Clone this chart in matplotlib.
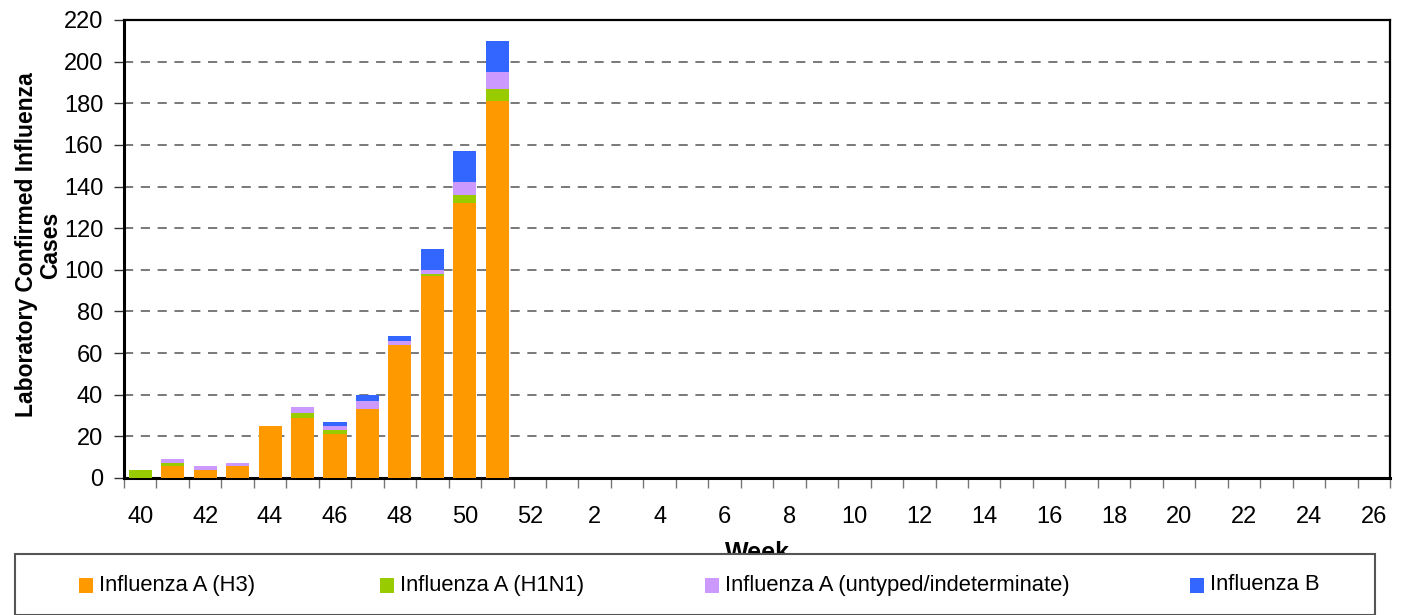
import matplotlib
matplotlib.use("Agg")
import matplotlib.pyplot as plt
from matplotlib.patches import Rectangle
import numpy as np

plt.rcParams['font.family'] = ['Liberation Sans', 'DejaVu Sans']

# Categories: weeks 40..52 then 1..26
weeks = list(range(40, 53)) + list(range(1, 27))
# Data (weeks 40..51)
h3 =       [0, 6, 4, 6, 25, 29, 21, 33, 64, 97, 132, 181]
h1n1 =     [4, 1, 0, 0, 0, 2, 2, 0, 0, 1, 4, 6]
untyped =  [0, 2, 2, 1, 0, 3, 2, 4, 2, 2, 6, 8]
flu_b =    [0, 0, 0, 0, 0, 0, 2, 3, 2, 10, 15, 15]

series_names = ["Influenza A (H3)", "Influenza A (H1N1)",
                "Influenza A (untyped/indeterminate)", "Influenza B"]
colors = ["#FF9900", "#99CC00", "#CC99FF", "#3366FF"]
yticks = list(range(0, 221, 20))

W, H = 1403, 615
fig = plt.figure(figsize=(W / 100, H / 100), dpi=100)
ax = fig.add_axes([124 / W, 1 - 478 / H, (1390 - 124) / W, (478 - 20) / H])

n = len(h3)
x = np.arange(n)
bottom = np.zeros(n)
for vals, c in zip([h3, h1n1, untyped, flu_b], colors):
    v = np.array(vals, dtype=float)
    ax.bar(x, v, bottom=bottom, width=0.71, color=c, zorder=3)
    bottom += v

ax.set_xlim(-0.5, len(weeks) - 0.5)
ax.set_ylim(0, 220)
ax.set_yticks(yticks)
ax.set_yticklabels([str(t) for t in yticks], fontsize=17)
ax.tick_params(axis='y', length=7, width=1, color='#333333', pad=8)

# boundaries ticks (major) and labels at centers of every other category (minor)
ax.set_xticks(np.arange(-0.5, len(weeks), 1))
ax.set_xticklabels([])
ax.tick_params(axis='x', which='major', length=7, width=1, color='#777777')
centers = np.arange(0, len(weeks), 2)
ax.set_xticks(centers, minor=True)
ax.set_xticklabels([str(weeks[i]) for i in centers], minor=True, fontsize=17)
ax.tick_params(axis='x', which='minor', length=0, pad=20)

for yv in yticks[1:-1]:
    ax.axhline(yv, color='#555555', lw=1.1, ls=(0, (6, 5)), zorder=1)

for s in ax.spines.values():
    s.set_linewidth(1.6)
    s.set_color('black')
ax.spines['left'].set_linewidth(2.2)
ax.spines['bottom'].set_linewidth(2.2)

fig.text(27 / W, 1 - 245 / H, "Laboratory Confirmed Influenza", rotation=90,
         ha='center', va='center', fontsize=16.5, fontweight='bold')
fig.text(51 / W, 1 - 245 / H, "Cases", rotation=90,
         ha='center', va='center', fontsize=16.5, fontweight='bold')

fig.text(757 / W, 1 - 553 / H, "Week", ha='center', va='center',
         fontsize=18, fontweight='bold', zorder=1)

# legend box
box = Rectangle((15 / W, 0), (1375 - 15) / W, (H - 554) / H, transform=fig.transFigure,
                facecolor='white', edgecolor='#555555', lw=1.5, zorder=5)
fig.patches.append(box)
mx = [79, 380, 705, 1190]
for xm, c, name in zip(mx, colors, series_names):
    fig.patches.append(Rectangle((xm / W, 1 - 593 / H), 14 / W, 15 / H,
                                 transform=fig.transFigure, facecolor=c,
                                 edgecolor='none', zorder=6))
    fig.text((xm + 20) / W, 1 - 585 / H, name, ha='left', va='center',
             fontsize=15.8, zorder=7)

fig.savefig("out.png", dpi=100)
